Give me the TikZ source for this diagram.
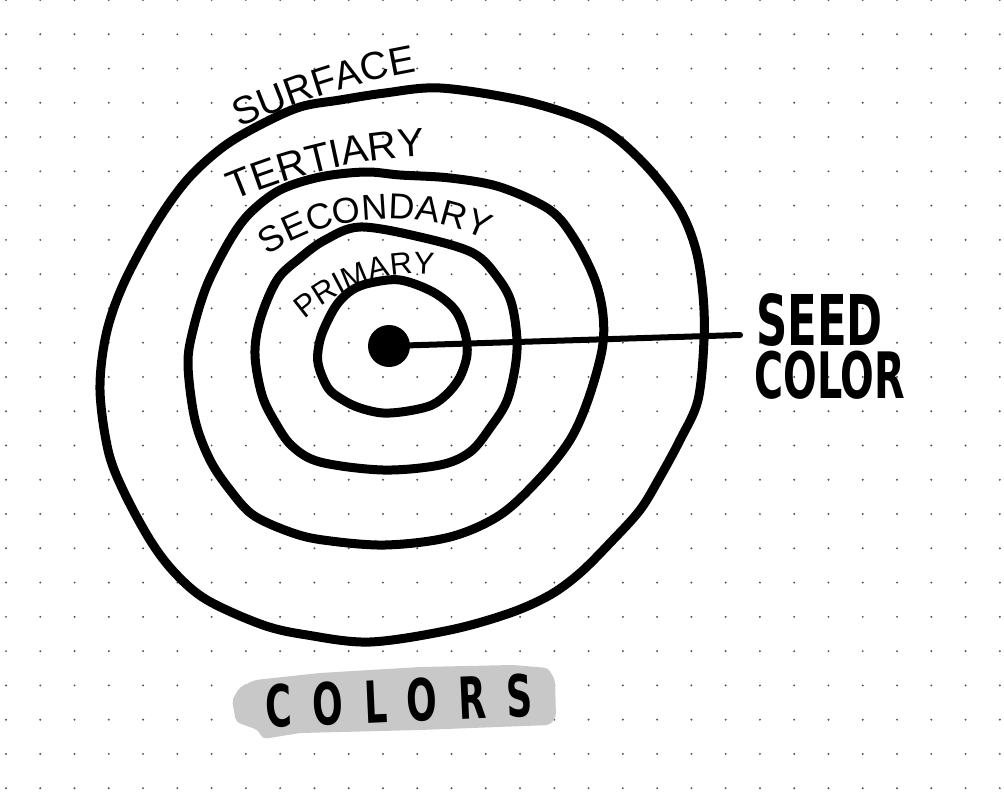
\documentclass[tikz,border=0pt]{standalone}
\usepackage{fontspec}
\usetikzlibrary{decorations.text}
\newfontfamily\handfont{Liberation Sans}
\newfontfamily\markerfont{DejaVu Sans}[FakeStretch=0.62]
\definecolor{markergray}{HTML}{C8C8C8}
\definecolor{griddot}{HTML}{555555}
\tikzset{
  ring/.style={line width=9pt, line cap=round, line join=round},
  ringlabel/.style={decorate, decoration={text along path, text align=center, text={#1}}},
}
\newcommand{\labelsize}[1]{\fontsize{#1}{#1}\selectfont\handfont}
\begin{document}
\begin{tikzpicture}[x=1pt, y=-1pt, line join=round, line cap=round]
\useasboundingbox (0,0) rectangle (1004,792);
\fill[white] (0,0) rectangle (1004,792);
% dot grid
\foreach \i in {0,...,29}
  \foreach \j in {0,...,23}
    \fill[griddot] ({6+34.27*\i},{34.27*\j}) circle (1.1);
% rings
\draw[ring] plot[smooth cycle, tension=0.55] coordinates {(440,88) (520,100) (580,118) (615,137) (650,170) (680,210) (696,250) (703,295) (704,340) (698,400) (680,440) (660,477) (640,510) (610,543) (580,573) (550,595) (510,613) (450,630) (370,642) (307,635) (263,625) (207,600) (175,573) (150,540) (123,490) (108,450) (100,390) (106,335) (123,285) (155,225) (187,180) (223,147) (260,125) (300,107) (340,100) (385,93)};
\draw[ring] plot[smooth cycle, tension=0.55] coordinates {(365,172) (400,175) (450,178) (500,187) (550,210) (575,240) (595,280) (603,315) (602,350) (588,400) (570,440) (540,478) (500,515) (450,537) (385,545) (323,540) (290,532) (253,515) (230,490) (210,460) (195,420) (188,365) (193,330) (207,285) (230,240) (250,213) (280,190) (320,177)};
\draw[ring] plot[smooth cycle, tension=0.55] coordinates {(360,227) (420,237) (473,253) (498,278) (512,305) (517,350) (508,398) (490,428) (470,452) (440,465) (383,470) (320,462) (292,446) (275,422) (262,395) (255,355) (260,320) (277,280) (300,258) (325,240)};
\draw[ring] plot[smooth cycle, tension=0.55] coordinates {(370,283) (400,280) (433,292) (455,310) (465,333) (467,355) (460,377) (448,393) (432,405) (408,411) (383,413) (360,408) (343,400) (328,388) (318,363) (320,340) (328,320) (338,303) (352,290)};
% ring labels
\path[ringlabel={|\labelsize{39}|SURFACE}] (230,132) .. controls (290,104) and (360,80) .. (427,70);
\path[ringlabel={|\labelsize{40}|TERTIARY}] (232,201) .. controls (290,176) and (360,158) .. (427,156);
\path[ringlabel={|\labelsize{36}|SECONDARY}] (262,260) .. controls (320,214) and (420,204) .. (492,243);
\path[ringlabel={|\labelsize{31}|PRIMARY}] (298,325) .. controls (340,286) and (392,266) .. (442,276);
% seed color
\node[circle, fill, minimum size=42, inner sep=0] (seed) at (389,346) {};
\coordinate (tip) at (740,335);
\draw[line width=6pt] (seed.center) -- (tip);
\node[anchor=base west, inner sep=0, font=\markerfont\bfseries\fontsize{70}{70}\selectfont] (seedlabel) at (756,345) {SEED};
\node[anchor=base west, inner sep=0, font=\markerfont\bfseries\fontsize{64}{64}\selectfont] (colorlabel) at (754,398) {COLOR};
% title
\fill[markergray, rounded corners=4pt] (240,687) -- (255,680) -- (320,673) -- (420,667) -- (513,665) -- (548,668) -- (555,680) -- (556,717) -- (550,725) -- (420,730) -- (300,733) -- (263,739) -- (258,730) -- (236,722) -- (232,700) -- cycle;
\node[anchor=base, inner sep=0, rotate=2.5, font=\markerfont\bfseries\fontsize{58}{58}\selectfont\addfontfeature{LetterSpace=36}] (title) at (400,722) {COLORS};
\end{tikzpicture}
\end{document}
